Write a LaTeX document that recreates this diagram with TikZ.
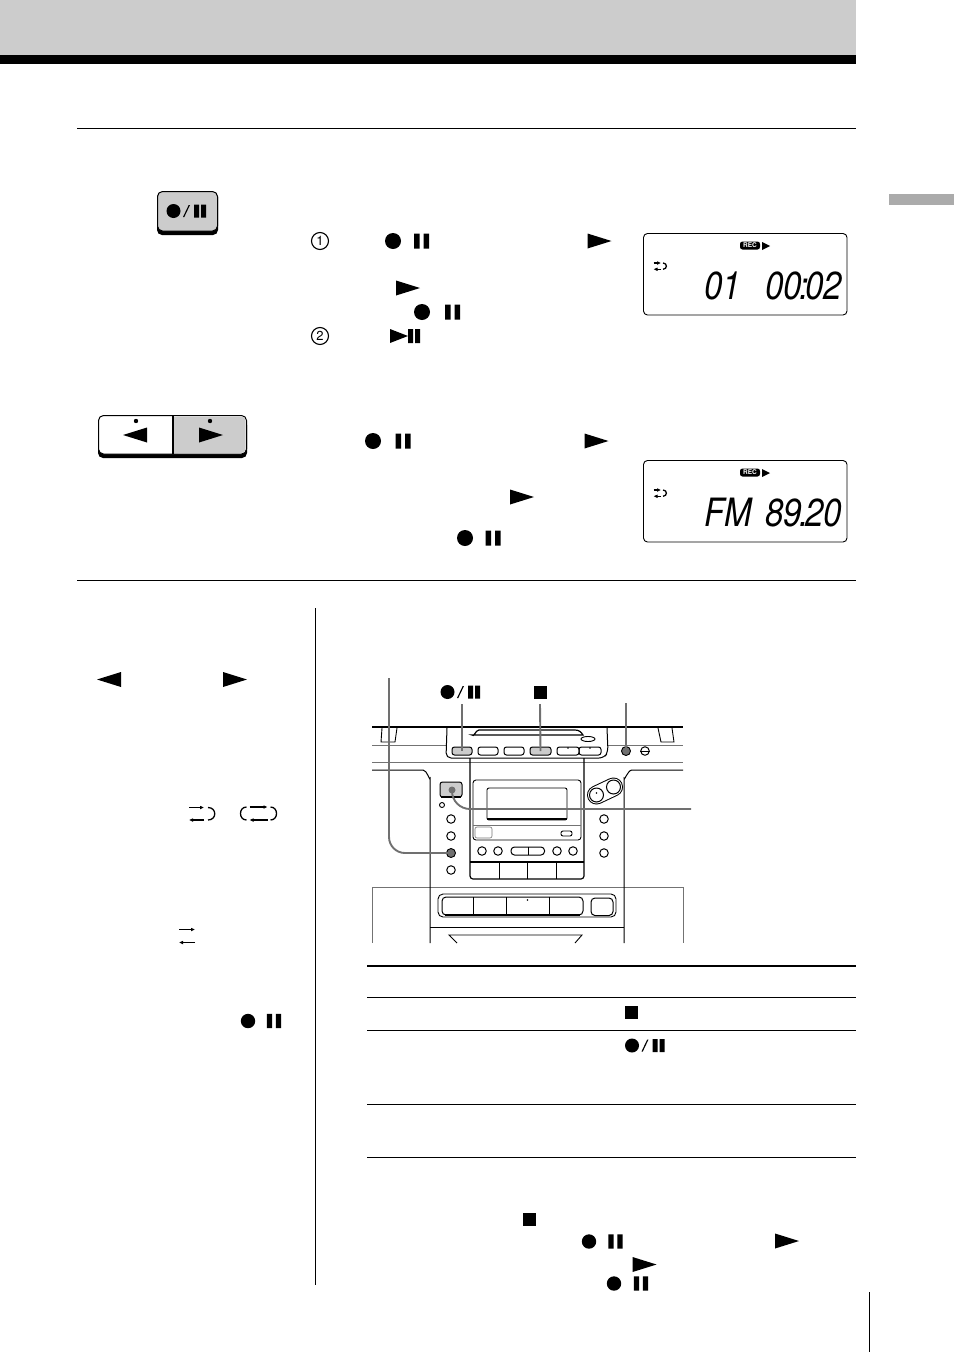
\documentclass[tikz,border=0pt]{standalone}
\usepackage{fontspec}
\usetikzlibrary{arrows.meta, shapes.geometric}
\newfontfamily\lcdfont{TeX Gyre Heros}
\definecolor{bandgray}{HTML}{CCCCCC}
\definecolor{tabgray}{HTML}{ABABAB}
\definecolor{leadgray}{HTML}{707070}
\tikzset{>={Latex[width=3.8pt,length=4pt]}}
\tikzset{
    playsym/.pic={\fill (-12,-7.5) -- (12,0) -- (-12,7.5) -- cycle;},
    backsym/.pic={\fill (12,-7.5) -- (-12,0) -- (12,7.5) -- cycle;},
    pausesym/.pic={\fill (-7.5,-7.5) rectangle (-2,7.5) (2,-7.5) rectangle (7.5,7.5);},
    recsym/.pic={\fill (0,0) circle (8);},
    stopsym/.pic={\fill (-6.5,-6.5) rectangle (6.5,6.5);},
    recpause/.pic={
        \fill (-13.5,0) circle (7);
        \fill (-4,6) -- (-2.7,6) -- (3,-6) -- (1.7,-6) -- cycle;
        \fill (7,-6.5) rectangle (12,6.5) (14,-6.5) rectangle (19,6.5);
    },
    rptone/.pic={
        \draw[->,line width=1.3pt] (-13,-6) -- (2,-6);
        \draw[->,line width=1.3pt] (2,6.5) -- (-13,6.5);
        \draw[line width=1.3pt] (6,-6) .. controls (15,-6) and (15,6.5) .. (6,6.5);
    },
    rptboth/.pic={
        \draw[->,line width=1.3pt] (-9,-6.5) -- (9,-6.5);
        \draw[->,line width=1.3pt] (9,6.5) -- (-9,6.5);
        \draw[line width=1.3pt] (12,-6.5) .. controls (20,-6.5) and (20,6.5) .. (12,6.5);
        \draw[line width=1.3pt] (-12,-6.5) .. controls (-20,-6.5) and (-20,6.5) .. (-12,6.5);
    },
    lcdbox/.style={draw=black, line width=0.9pt, rounded corners=4pt},
    lcdtext/.style={inner sep=0pt, anchor=base west, xscale=0.85, font=\lcdfont\itshape\fontsize{39}{39}\selectfont},
    recbadge/.style={fill=black, text=white, rounded corners=2.5pt, inner sep=0pt, minimum width=20pt, minimum height=8pt, font=\lcdfont\bfseries\fontsize{6.5}{6.5}\selectfont},
    stepnum/.style={draw=black, circle, line width=1.1pt, minimum size=17pt, inner sep=0pt, font=\lcdfont\fontsize{13}{13}\selectfont},
    topbtn/.style={draw=black, line width=1pt, rounded corners=2.5pt, minimum height=8pt, inner sep=0pt},
    sidedot/.style={draw=black, line width=1pt, circle, minimum size=8.5pt, inner sep=0pt},
    graydot/.style={fill=leadgray, circle, minimum size=9pt, inner sep=0pt},
    leader/.style={draw=leadgray, line width=1.9pt},
    thinline/.style={draw=black!55, line width=0.6pt}
}
\begin{document}
\begin{tikzpicture}[x=1pt,y=-1pt,line width=0.9pt]
    \useasboundingbox (0,0) rectangle (954,1352);
    % page furniture
    \fill[bandgray] (0,0) rectangle (856,55);
    \fill[black] (0,55) rectangle (856,64);
    \fill[tabgray] (889,194) rectangle (954,205);
    \draw (77,128) -- (856,128);
    \draw (77,580) -- (856,580);
    \draw (315.5,608) -- (315.5,1285);
    \draw (869.5,1292) -- (869.5,1352);
    \draw[line width=1.6pt] (367,966) -- (856,966);
    \draw (367,997) -- (856,997);
    \draw (367,1030) -- (856,1030);
    \draw (367,1104) -- (856,1104);
    \draw (367,1157) -- (856,1157);

    % record key
    \fill[rounded corners=5pt] (157,192) rectangle (218,235);
    \filldraw[fill=bandgray, draw=black, line width=1pt, rounded corners=5pt] (157.5,191.5) rectangle (217.5,231);
    \pic at (187,211) {recpause};

    % direction key
    \fill[rounded corners=5pt] (98,420) rectangle (247,458);
    \filldraw[fill=white, draw=black, line width=1pt, rounded corners=5pt] (98.5,415.5) rectangle (246.5,454);
    \fill[bandgray, rounded corners=4pt] (174,416.5) rectangle (245.5,453);
    \fill[bandgray] (174,416.5) rectangle (200,453);
    \draw[line width=1.2pt] (173,415.5) -- (173,454);
    \fill (136,421) circle (2.2) (210,421) circle (2.2);
    \pic at (135,435) {backsym};
    \pic at (211,435) {playsym};

    % steps, upper block
    \node[stepnum] (stepone) at (320,241) {1};
    \node[stepnum] (steptwo) at (320,336) {2};
    \pic at (393,241) {recsym};
    \pic at (421.5,241) {pausesym};
    \pic at (599.5,241) {playsym};
    \pic at (408,288) {playsym};
    \pic at (422,312) {recsym};
    \pic at (452.5,312) {pausesym};
    \fill (390,329) -- (408,336) -- (390,343) -- cycle;
    \fill (408,329) rectangle (413,343) (415,329) rectangle (420,343);

    \pic at (373,441) {recsym};
    \pic at (403,441) {pausesym};
    \pic at (596.5,441) {playsym};
    \pic at (522,497) {playsym};
    \pic at (465,538) {recsym};
    \pic at (493,538) {pausesym};

    % display readouts
    \draw[lcdbox] (643.5,233.5) rectangle (847,315);
    \node[recbadge] (recone) at (750,245.5) {REC};
    \fill (762,242) -- (770,246) -- (762,250) -- cycle;
    \pic[scale=0.5] at (660,266) {rptone};
    \node[lcdtext] (trackno) at (704,299) {01};
    \node[lcdtext] (trktime) at (765,299) {00\kern-3.5pt:\kern-3.5pt02};

    \draw[lcdbox] (643.5,460.5) rectangle (847,542);
    \node[recbadge] (rectwo) at (750,472.5) {REC};
    \fill (762,469) -- (770,473) -- (762,477) -- cycle;
    \pic[scale=0.5] at (660,493) {rptone};
    \node[lcdtext] (bandname) at (704,526) {FM};
    \node[lcdtext] (freqval) at (765,526) {89\kern-3.5pt.\kern-3.5pt20};

    % left column
    \pic at (109,679.5) {backsym};
    \pic at (235,679.5) {playsym};
    \pic at (202,813.5) {rptone};
    \pic at (258.5,813.5) {rptboth};
    \draw[->,line width=1.3pt] (179,929.5) -- (195,929.5);
    \draw[->,line width=1.3pt] (195,942.5) -- (179,942.5);
    \pic[scale=0.9] at (248,1021) {recsym};
    \pic[scale=0.95] at (274,1021) {pausesym};

    % player front
    \draw[line width=1.4pt] (372,727) -- (683,727);
    \draw[thinline] (372,887) -- (372,943);
    \draw[thinline] (683,887) -- (683,943);
    \draw (382,728) -- (381,742) -- (395,742) -- (397,728);
    \draw (658,728) -- (661,742) -- (674,742) -- (672,728);
    \draw[thinline] (372,745) -- (447,745);
    \draw[thinline] (608,745) -- (683,745);
    \draw[thinline] (372,762) -- (683,762);
    \draw[thinline] (372,887) -- (683,887);
    \draw[line width=1pt] (372,770) -- (423,770) to[out=0,in=-90] (430,778) -- (430,943);
    \draw[line width=1pt] (683,770) -- (632,770) to[out=180,in=-90] (624,778) -- (624,943);

    \filldraw[fill=white, draw=black, line width=1pt, rounded corners=5pt] (447,728) -- (446,758) -- (604,758) -- (608,752) -- (607,728);
    \draw[line width=1.2pt] (472,735) to[out=-60,in=180] (479,730) -- (575,730) to[out=0,in=120] (583,735) -- cycle;
    \node[draw=black, ellipse, minimum width=14pt, minimum height=5pt, inner sep=0pt] (lidmark) at (588,739) {};

    \node[topbtn, fill=bandgray, minimum width=20pt] (btnrec) at (462,751) {};
    \node[topbtn, minimum width=20pt] (btnb) at (488,751) {};
    \node[topbtn, minimum width=20pt] (btnc) at (514,751) {};
    \node[topbtn, fill=bandgray, minimum width=21pt] (btnstop) at (540.5,751) {};
    \node[topbtn, minimum width=22pt] (btnrew) at (568,751) {};
    \node[topbtn, minimum width=22pt] (btnfwd) at (590,751) {};
    \fill (568,748) circle (0.8) (590,748) circle (0.8);

    \node[graydot, draw=black] (dotdir) at (626,751) {};
    \node[sidedot] (dotside) at (645,751) {};
    \draw (dotside.west) -- (dotside.east);

    % cassette bay
    \draw[line width=1.2pt, rounded corners=3pt] (470,758) -- (470,879) -- (584,879) -- (584,758);
    \draw[rounded corners=3pt] (473,780) rectangle (581,840);
    \draw[rounded corners=2pt] (487,788) rectangle (567,820);
    \draw[line width=1.6pt] (487,819) -- (567,819);
    \draw[thinline] (473,825) -- (581,825);
    \draw[thinline, rounded corners=2pt] (475,827) rectangle (492,838);
    \node[draw=black, rounded corners=2pt, minimum width=11pt, minimum height=5pt, inner sep=0pt] (ejectpill) at (566.5,833.5) {};
    \foreach \px/\nm in {482/ca, 498/cb, 557/cc, 573/cd} {
        \node[sidedot] (\nm) at (\px,851) {};
    }
    \draw[line width=1pt, rounded corners=3.5pt] (511,847) rectangle (544.5,855);
    \draw (528,847) -- (528,855);
    \draw[line width=1.2pt] (470,862) -- (584,862);
    \foreach \px in {499,527,556} {
        \draw (\px,862) -- (\px,879);
    }

    % mode key
    \filldraw[fill=bandgray, draw=black, line width=1pt, rounded corners=2.5pt] (440,782) rectangle (462,797);
    \draw[line width=1.5pt] (441,797) -- (461,797);
    \node[graydot, minimum size=7pt] (dotmode) at (452,790) {};

    % side keys
    \node[draw=black, circle, minimum size=5pt, inner sep=0pt] (keytiny) at (442,805) {};
    \node[sidedot] (keya) at (451,819) {};
    \node[sidedot] (keyb) at (451,836) {};
    \node[graydot, draw=black] (dotsync) at (451,853) {};
    \node[sidedot] (keyc) at (451,870) {};
    \node[sidedot] (keyd) at (604,819) {};
    \node[sidedot] (keye) at (604,836) {};
    \node[sidedot] (keyf) at (604,853) {};

    % twin knobs
    \draw[line width=19pt, line cap=round] (596.5,795) -- (613.5,787);
    \draw[line width=17pt, line cap=round, white] (596.5,795) -- (613.5,787);
    \node[draw=black, line width=1pt, circle, minimum size=14pt, inner sep=0pt] (knobl) at (596.5,795) {};
    \node[draw=black, line width=1pt, circle, minimum size=14pt, inner sep=0pt] (knobr) at (613.5,787) {};
    \fill (596.5,793) circle (0.8);

    % lower keys
    \draw[rounded corners=5pt] (438,894) rectangle (616,917);
    \filldraw[fill=white, draw=black, line width=1pt, rounded corners=4pt] (442,897) rectangle (583,915);
    \draw[line width=1.5pt] (445,915) -- (580,915);
    \foreach \px in {473,506,549} {
        \draw (\px,897) -- (\px,915);
    }
    \fill (527.5,900) circle (0.9);
    \draw[line width=1pt, rounded corners=4pt] (591,898) rectangle (613,915.5);
    \draw[line width=1.5pt] (594,915.5) -- (610,915.5);
    \draw (430,927) -- (624,927);
    \draw (457,943) -- (449,935) -- (582,935) -- (575,943);

    % key labels
    \pic at (461,692) {recpause};
    \pic at (540,692) {stopsym};
    \coordinate (leadsync) at (389,678);
    \coordinate (leadrec) at (462,704);
    \coordinate (leadstop) at (540,704);
    \coordinate (leaddir) at (626,703);
    \coordinate (leadmode) at (691,809);
    \draw[leader, rounded corners=16pt] (leadsync) |- (dotsync.center);
    \draw[leader] (leadrec) -- (btnrec.center);
    \draw[leader] (leadstop) -- (btnstop.center);
    \draw[leader] (leaddir) -- (dotdir.center);
    \draw[leader, rounded corners=18pt] (dotmode.center) |- (leadmode);

    % table and closing symbols
    \pic at (631.5,1012) {stopsym};
    \pic at (645.5,1045.5) {recpause};
    \pic at (529,1219) {stopsym};
    \pic[scale=0.9] at (589,1241.5) {recsym};
    \pic[scale=0.95] at (615.5,1241.5) {pausesym};
    \pic at (787,1241) {playsym};
    \pic at (644.5,1264.5) {playsym};
    \pic[scale=0.9] at (614,1283.5) {recsym};
    \pic[scale=0.95] at (641,1283.5) {pausesym};
\end{tikzpicture}
\end{document}
